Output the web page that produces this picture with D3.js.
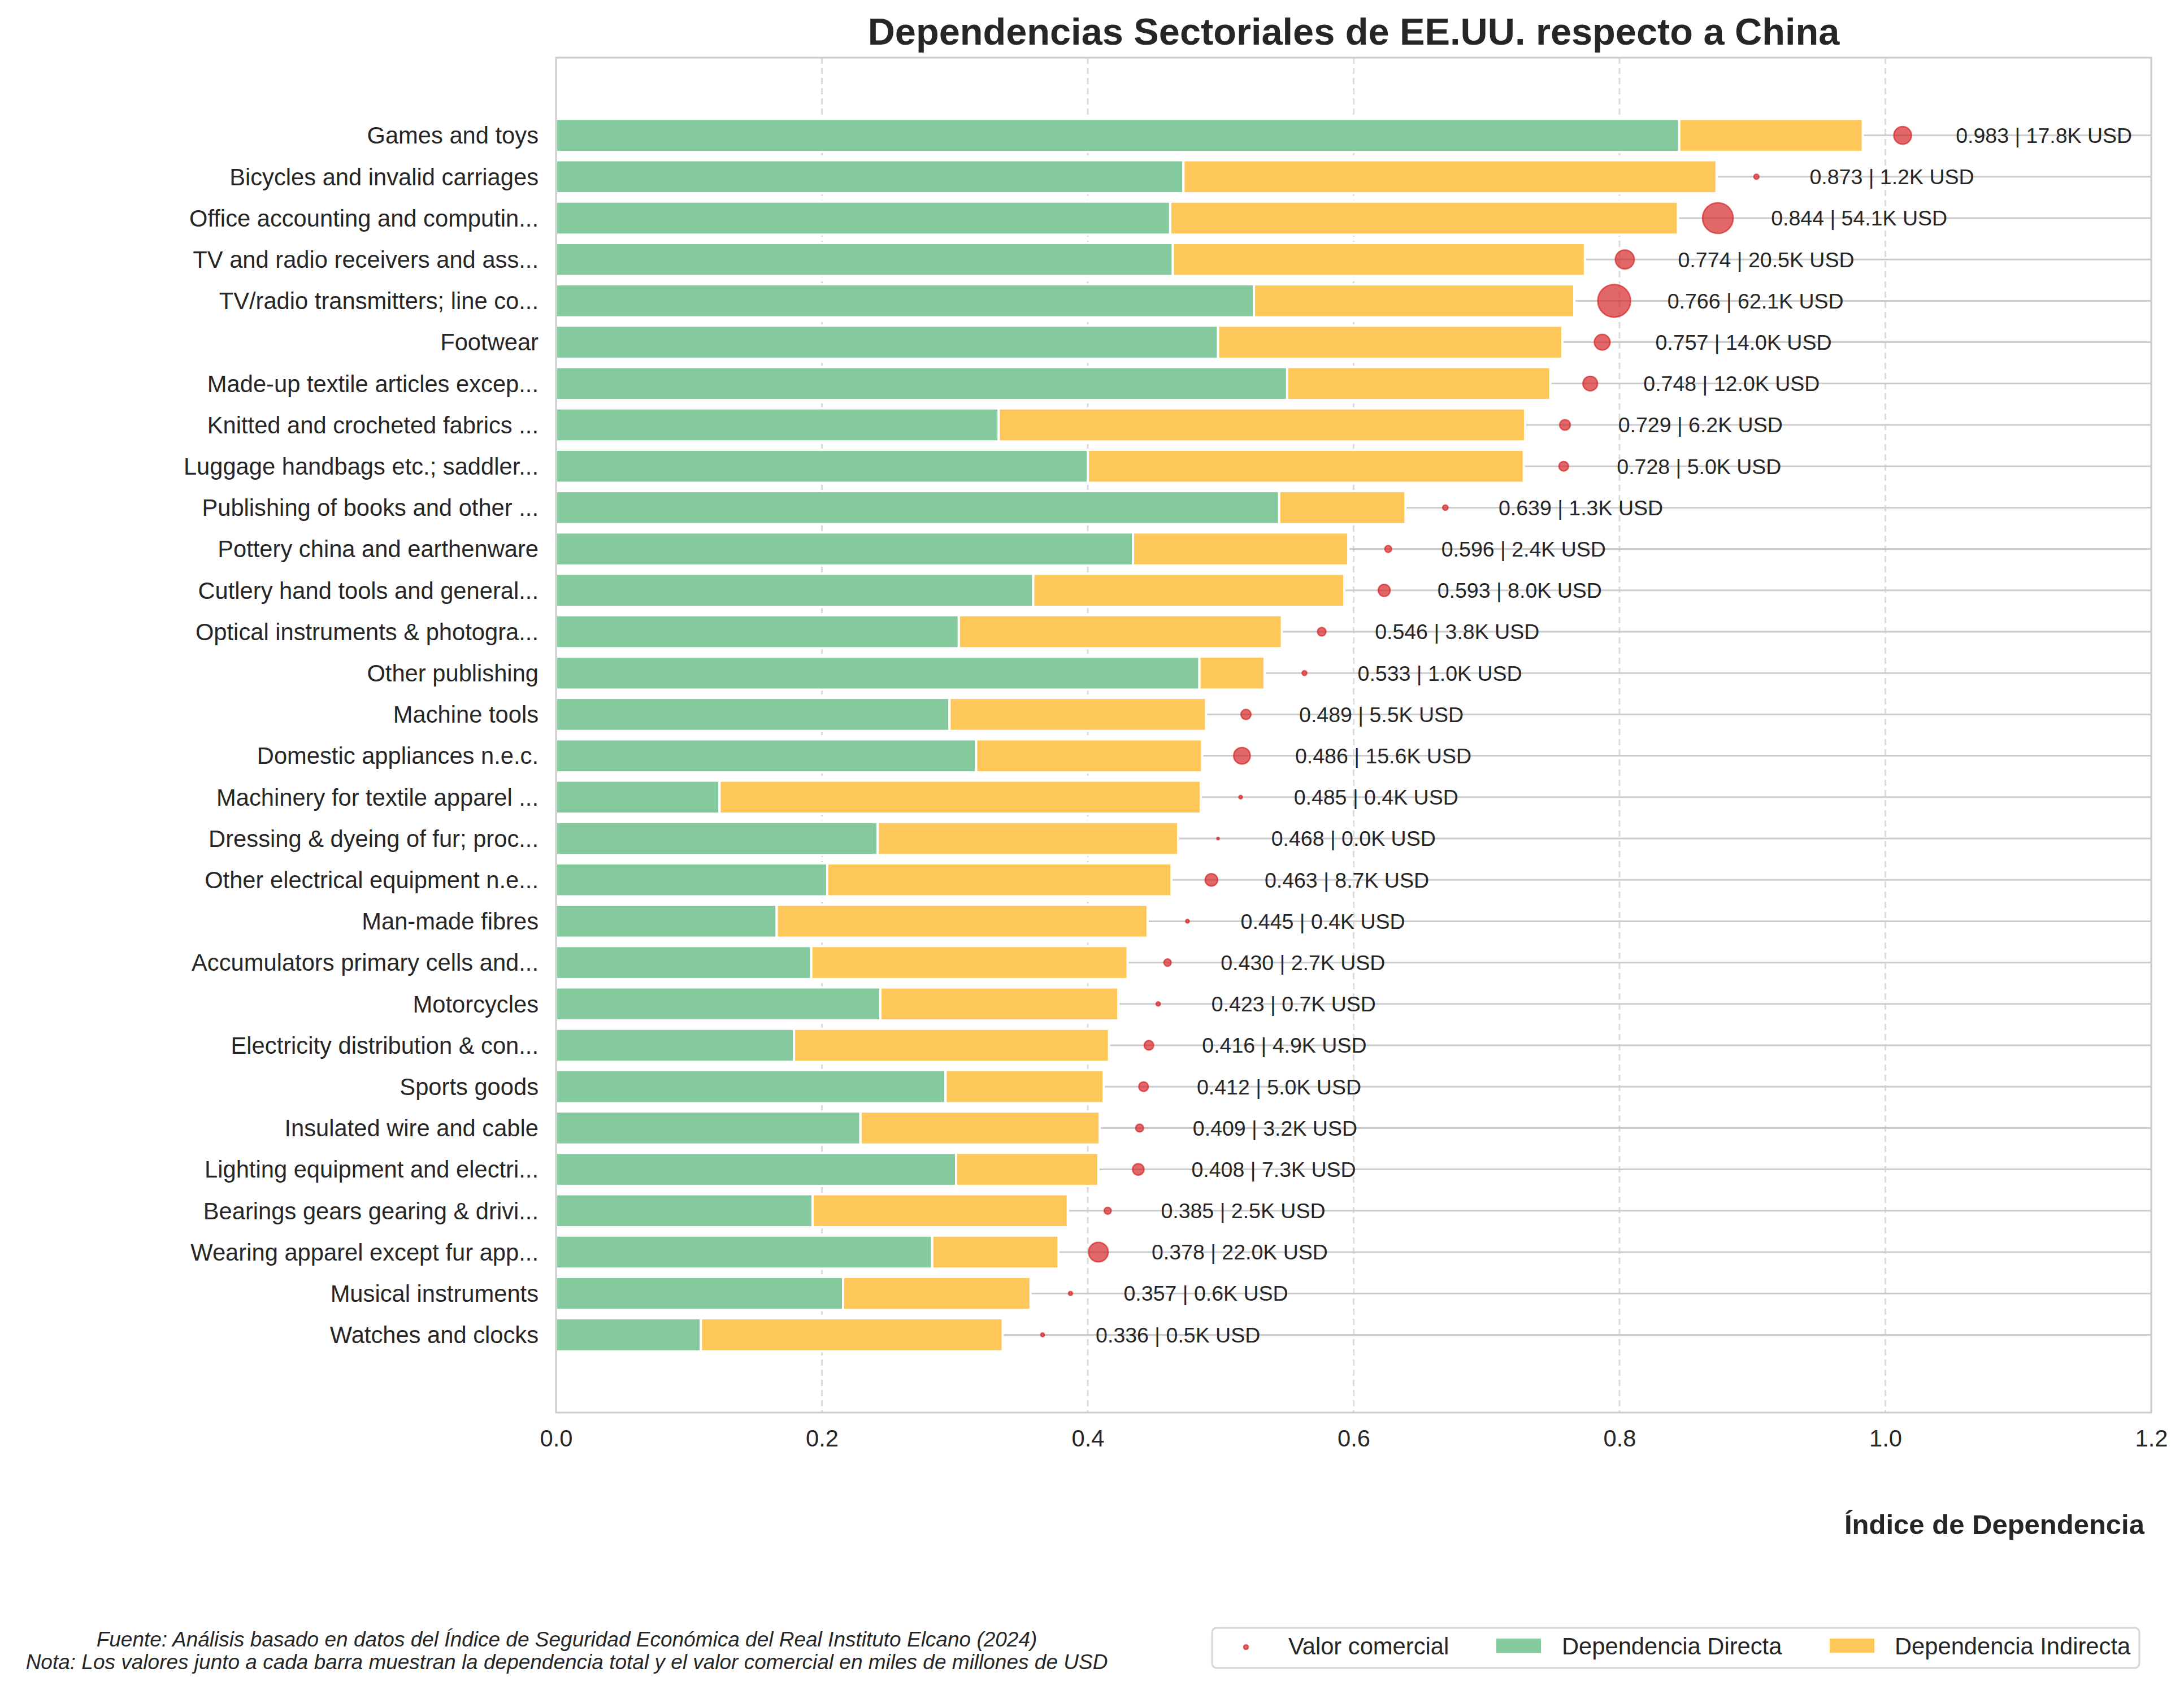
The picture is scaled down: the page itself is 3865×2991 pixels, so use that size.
<!DOCTYPE html>
<html>
<head>
<meta charset="utf-8">
<script src="https://cdn.jsdelivr.net/npm/d3@7"></script>
<style>
  html, body { margin: 0; padding: 0; background: #ffffff; }
  svg { display: block; }
  text { font-family: "Liberation Sans", Arial, "Helvetica", sans-serif; fill: #262626; }
</style>
</head>
<body>
<script>
// ---------------- DATA ----------------
const categories = [
  "Games and toys",
  "Bicycles and invalid carriages",
  "Office accounting and computin...",
  "TV and radio receivers and ass...",
  "TV/radio transmitters; line co...",
  "Footwear",
  "Made-up textile articles excep...",
  "Knitted and crocheted fabrics ...",
  "Luggage handbags etc.; saddler...",
  "Publishing of books and other ...",
  "Pottery china and earthenware",
  "Cutlery hand tools and general...",
  "Optical instruments & photogra...",
  "Other publishing",
  "Machine tools",
  "Domestic appliances n.e.c.",
  "Machinery for textile apparel ...",
  "Dressing & dyeing of fur; proc...",
  "Other electrical equipment n.e...",
  "Man-made fibres",
  "Accumulators primary cells and...",
  "Motorcycles",
  "Electricity distribution & con...",
  "Sports goods",
  "Insulated wire and cable",
  "Lighting equipment and electri...",
  "Bearings gears gearing & drivi...",
  "Wearing apparel except fur app...",
  "Musical instruments",
  "Watches and clocks"
];
// Total dependency index (labelled values)
const totalDependency = [
  0.983, 0.873, 0.844, 0.774, 0.766, 0.757, 0.748, 0.729, 0.728, 0.639,
  0.596, 0.593, 0.546, 0.533, 0.489, 0.486, 0.485, 0.468, 0.463, 0.445,
  0.430, 0.423, 0.416, 0.412, 0.409, 0.408, 0.385, 0.378, 0.357, 0.336
];
// Direct dependency (green segment)
const directDependency = [
  0.845, 0.472, 0.462, 0.464, 0.525, 0.498, 0.550, 0.333, 0.400, 0.544,
  0.434, 0.359, 0.303, 0.484, 0.296, 0.316, 0.123, 0.242, 0.204, 0.166,
  0.192, 0.244, 0.179, 0.293, 0.229, 0.301, 0.193, 0.283, 0.216, 0.109
];
// Trade value, thousand millions USD (shown as "K USD")
const tradeValue = [
  17.8, 1.2, 54.1, 20.5, 62.1, 14.0, 12.0, 6.2, 5.0, 1.3,
  2.4, 8.0, 3.8, 1.0, 5.5, 15.6, 0.4, 0.03, 8.7, 0.4,
  2.7, 0.7, 4.9, 5.0, 3.2, 7.3, 2.5, 22.0, 0.6, 0.5
];
const xTicks = [0.0, 0.2, 0.4, 0.6, 0.8, 1.0, 1.2];
const legendLabels = ["Valor comercial", "Dependencia Directa", "Dependencia Indirecta"];

const titleText = "Dependencias Sectoriales de EE.UU. respecto a China";
const xLabelText = "Índice de Dependencia";
const footLines = [
  "Fuente: Análisis basado en datos del Índice de Seguridad Económica del Real Instituto Elcano (2024)",
  "Nota: Los valores junto a cada barra muestran la dependencia total y el valor comercial en miles de millones de USD"
];

// ---------------- LAYOUT ----------------
const W = 3865, H = 2991;
const plot = { left: 984, right: 3807, top: 102, bottom: 2500 };
const colors = { direct: "#85C99E", indirect: "#FEC75A", dot: "#d62728", text: "#262626",
                 spine: "#cccccc", grid: "#cccccc", vgrid: "#dcdcdc" };

const rows = categories.map((c, i) => ({
  cat: c, direct: directDependency[i], total: totalDependency[i],
  indirect: totalDependency[i] - directDependency[i], trade: tradeValue[i]
}));

const svg = d3.select("body").append("svg").attr("width", W).attr("height", H)
  .attr("viewBox", `0 0 ${W} ${H}`);

const x = d3.scaleLinear().domain([0, 1.2]).range([plot.left, plot.right]);
const y = d3.scaleBand().domain(categories).range([plot.top, plot.bottom])
  .paddingInner(0.2).paddingOuter(1.48);
const area = d3.scaleLinear().domain([0, 62.1]).range([4, 842]);

// vertical dashed grid
svg.append("g").selectAll("line").data(xTicks.slice(1, -1)).join("line")
  .attr("x1", d => x(d)).attr("x2", d => x(d))
  .attr("y1", plot.top).attr("y2", plot.bottom)
  .attr("stroke", colors.vgrid).attr("stroke-width", 3)
  .attr("stroke-dasharray", "11,7");

// horizontal solid grid (per category)
svg.append("g").selectAll("line").data(rows).join("line")
  .attr("x1", x(0)).attr("x2", x(1.2))
  .attr("y1", d => y(d.cat) + y.bandwidth() / 2).attr("y2", d => y(d.cat) + y.bandwidth() / 2)
  .attr("stroke", colors.grid).attr("stroke-width", 3);

// bars
const bars = svg.append("g");
bars.selectAll("rect.direct").data(rows).join("rect").attr("class", "direct")
  .attr("x", x(0)).attr("width", d => x(d.direct) - x(0))
  .attr("y", d => y(d.cat)).attr("height", y.bandwidth())
  .attr("fill", colors.direct).attr("stroke", "#ffffff").attr("stroke-width", 4);
bars.selectAll("rect.indirect").data(rows).join("rect").attr("class", "indirect")
  .attr("x", d => x(d.direct)).attr("width", d => x(d.total) - x(d.direct))
  .attr("y", d => y(d.cat)).attr("height", y.bandwidth())
  .attr("fill", colors.indirect).attr("stroke", "#ffffff").attr("stroke-width", 4);

// spines
svg.append("rect").attr("x", plot.left).attr("y", plot.top)
  .attr("width", plot.right - plot.left).attr("height", plot.bottom - plot.top)
  .attr("fill", "none").attr("stroke", colors.spine).attr("stroke-width", 3);

// circles (trade value)
svg.append("g").selectAll("circle").data(rows).join("circle")
  .attr("cx", d => x(d.total + 0.03)).attr("cy", d => y(d.cat) + y.bandwidth() / 2)
  .attr("r", d => Math.sqrt(area(d.trade)))
  .attr("fill", colors.dot).attr("fill-opacity", 0.7)
  .attr("stroke", colors.dot).attr("stroke-opacity", 0.7).attr("stroke-width", 2.5);

// value labels
svg.append("g").selectAll("text").data(rows).join("text")
  .attr("x", d => x(d.total + 0.07))
  .attr("y", d => y(d.cat) + y.bandwidth() / 2 + 0.355 * 37.5)
  .attr("font-size", 37.5)
  .text(d => `${d.total.toFixed(3)} | ${d.trade.toFixed(1)}K USD`);

// axes
const xAxis = svg.append("g").attr("transform", `translate(0,${plot.bottom})`)
  .call(d3.axisBottom(x).tickValues(xTicks).tickFormat(d3.format(".1f")).tickSize(0).tickPadding(30));
xAxis.select(".domain").remove();
xAxis.selectAll("text").attr("font-size", 41.7).attr("fill", colors.text)
  .attr("font-family", "Liberation Sans, Arial, sans-serif");

const yAxis = svg.append("g").attr("transform", `translate(${plot.left},0)`)
  .call(d3.axisLeft(y).tickSize(0).tickPadding(31));
yAxis.select(".domain").remove();
yAxis.selectAll("text").attr("font-size", 41.7).attr("fill", colors.text)
  .attr("dy", "0.355em")
  .attr("font-family", "Liberation Sans, Arial, sans-serif");

// title
svg.append("text").attr("x", (plot.left + plot.right) / 2).attr("y", 79)
  .attr("text-anchor", "middle").attr("font-size", 66.7).attr("font-weight", "bold")
  .text(titleText);

// x label
svg.append("text").attr("x", 3795).attr("y", 2715)
  .attr("text-anchor", "end").attr("font-size", 49).attr("font-weight", "bold")
  .text(xLabelText);

// footnote
svg.append("g").selectAll("text").data(footLines).join("text")
  .attr("x", 1003).attr("y", (d, i) => 2914 + i * 40)
  .attr("text-anchor", "middle").attr("font-size", 37).attr("font-style", "italic")
  .text(d => d);

// legend
const lg = svg.append("g");
lg.append("rect").attr("x", 2145).attr("y", 2881).attr("width", 1641).attr("height", 71)
  .attr("rx", 8).attr("fill", "#ffffff").attr("stroke", "#d6d6d6").attr("stroke-width", 3);
lg.append("circle").attr("cx", 2205).attr("cy", 2915).attr("r", 4)
  .attr("fill", colors.dot).attr("fill-opacity", 0.7)
  .attr("stroke", colors.dot).attr("stroke-opacity", 0.7).attr("stroke-width", 2.5);
lg.append("rect").attr("x", 2648).attr("y", 2900).attr("width", 79).attr("height", 25).attr("fill", colors.direct);
lg.append("rect").attr("x", 3238).attr("y", 2900).attr("width", 79).attr("height", 25).attr("fill", colors.indirect);
const legendX = [2280, 2764, 3353];
lg.selectAll("text").data(legendLabels).join("text")
  .attr("x", (d, i) => legendX[i]).attr("y", 2928)
  .attr("font-size", 41.7).text(d => d);
</script>
</body>
</html>
